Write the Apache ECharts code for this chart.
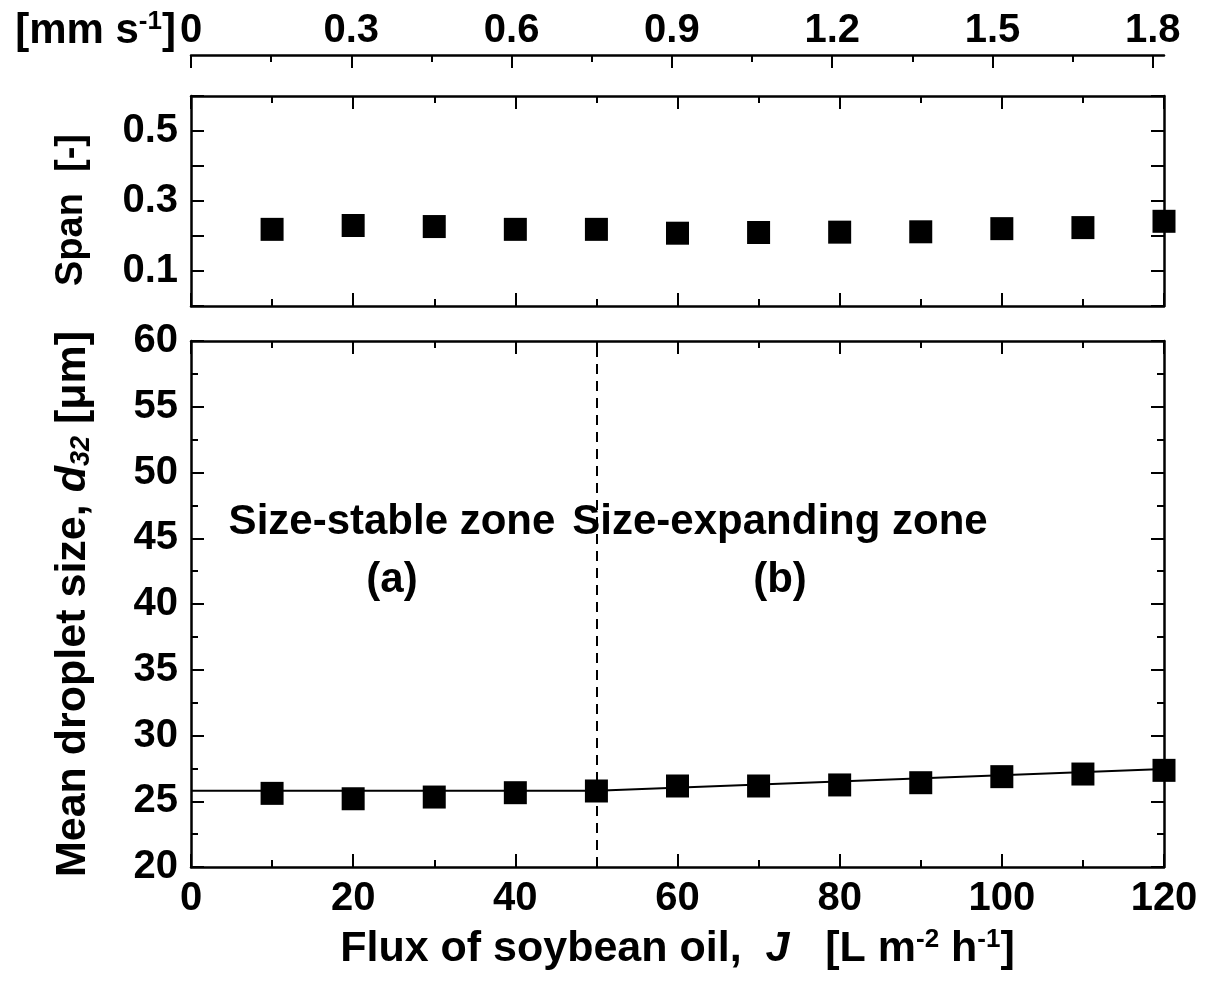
<!DOCTYPE html>
<html>
<head>
<meta charset="utf-8">
<script src="https://cdn.jsdelivr.net/npm/echarts@6/dist/echarts.min.js"></script>
<style>
html,body{margin:0;padding:0;background:#fff;}
#c{width:1209px;height:984px;}
</style>
</head>
<body>
<div id="c"></div>
<script>
// ---- data ----
const flux = [10, 20, 30, 40, 50, 60, 70, 80, 90, 100, 110, 120];
const spanValues = [0.219, 0.230, 0.227, 0.219, 0.219, 0.208, 0.210, 0.211, 0.212, 0.221, 0.224, 0.242];
const d32Values = [25.60, 25.19, 25.32, 25.65, 25.78, 26.16, 26.16, 26.24, 26.41, 26.87, 27.07, 27.35];
const fitX = [0, 50, 120];
const fitY = [25.8, 25.8, 27.45];
const zoneBoundary = 50;
const topMajor = [0, 0.3, 0.6, 0.9, 1.2, 1.5, 1.8];
const topMinor = [0.15, 0.45, 0.75, 1.05, 1.35, 1.65];
const spanLabels = [0.1, 0.3, 0.5];

const FONT = '"Liberation Sans", Arial, sans-serif';
const lbl = {fontFamily: FONT, fontWeight: 'bold', fontSize: 40, color: '#000'};
const axLine = {show: true, onZero: false, lineStyle: {color: '#000', width: 2.5}};
const tickIn = {show: true, inside: true, length: 13, lineStyle: {color: '#000', width: 2}};
const minorIn = {show: true, splitNumber: 2, length: 7, lineStyle: {color: '#000', width: 2}};

function xyPair(xs, ys) { return xs.map((x, i) => [x, ys[i]]); }

const chart = echarts.init(document.getElementById('c'));
const option = {
  backgroundColor: '#fff',
  animation: false,
  grid: [
    {left: 191, top: 96, width: 973, height: 210},
    {left: 191, top: 341, width: 973, height: 526}
  ],
  xAxis: [
    {gridIndex: 0, type: 'value', position: 'bottom', min: 0, max: 120, interval: 20,
     axisLine: axLine, axisTick: tickIn, minorTick: minorIn, axisLabel: {show: false}, splitLine: {show: false}},
    {gridIndex: 0, type: 'value', position: 'top', min: 0, max: 120, interval: 20,
     axisLine: axLine, axisTick: tickIn, minorTick: minorIn, axisLabel: {show: false}, splitLine: {show: false}},
    {gridIndex: 0, type: 'value', position: 'top', offset: 41, min: 0, max: 1.821,
     axisLine: axLine,
     axisTick: Object.assign({}, tickIn, {customValues: topMajor}),
     axisLabel: Object.assign({}, lbl, {customValues: topMajor, margin: 4}),
     splitLine: {show: false},
     name: '{b|[mm s}{sup|-1}{b|]}', nameLocation: 'start', nameGap: 6,
     nameTextStyle: {align: 'right', verticalAlign: 'bottom', padding: [0, 0, 2, 0],
       rich: {
         b: {fontFamily: FONT, fontWeight: 'bold', fontSize: 42, color: '#000'},
         sup: {fontFamily: FONT, fontWeight: 'bold', fontSize: 26, color: '#000', verticalAlign: 'top', padding: [0, 0, 18, 0]}
       }}},
    {gridIndex: 0, type: 'value', position: 'top', offset: 41, min: 0, max: 1.821,
     axisLine: {show: false, onZero: false},
     axisTick: {show: true, inside: true, length: 7, lineStyle: {color: '#000', width: 2}, customValues: topMinor},
     axisLabel: {show: false}, splitLine: {show: false}},
    {gridIndex: 1, type: 'value', position: 'bottom', min: 0, max: 120, interval: 20,
     axisLine: axLine, axisTick: tickIn, minorTick: minorIn,
     axisLabel: Object.assign({}, lbl, {margin: 12}), splitLine: {show: false},
     name: '{b|Flux of soybean oil,  }{i|J}{b|   [L m}{sup|-2}{b| h}{sup|-1}{b|]}',
     nameLocation: 'middle', nameGap: 60,
     nameTextStyle: {
       rich: {
         b: {fontFamily: FONT, fontWeight: 'bold', fontSize: 43, color: '#000'},
         i: {fontFamily: FONT, fontWeight: 'bold', fontStyle: 'italic', fontSize: 43, color: '#000'},
         sup: {fontFamily: FONT, fontWeight: 'bold', fontSize: 26, color: '#000', verticalAlign: 'top', padding: [0, 0, 18, 0]}
       }}},
    {gridIndex: 1, type: 'value', position: 'top', min: 0, max: 120, interval: 20,
     axisLine: axLine, axisTick: tickIn, minorTick: minorIn, axisLabel: {show: false}, splitLine: {show: false}}
  ],
  yAxis: [
    {gridIndex: 0, type: 'value', position: 'left', min: 0, max: 0.6, interval: 0.1,
     axisLine: axLine, axisTick: tickIn,
     axisLabel: Object.assign({}, lbl, {margin: 13, customValues: spanLabels,
       formatter: v => v.toFixed(1)}),
     splitLine: {show: false},
     name: 'Span  [-]', nameLocation: 'middle', nameGap: 100, nameRotate: 90,
     nameTextStyle: {fontFamily: FONT, fontWeight: 'bold', fontSize: 38, color: '#000', padding: [0, 18, 0, 0]}},
    {gridIndex: 0, type: 'value', position: 'right', min: 0, max: 0.6, interval: 0.1,
     axisLine: axLine, axisTick: tickIn, axisLabel: {show: false}, splitLine: {show: false}},
    {gridIndex: 1, type: 'value', position: 'left', min: 20, max: 60, interval: 5,
     axisLine: axLine, axisTick: tickIn, minorTick: minorIn,
     axisLabel: Object.assign({}, lbl, {margin: 13}), splitLine: {show: false},
     name: '{b|Mean droplet size, }{i|d}{s|32}{b| [μm]}', nameLocation: 'middle', nameGap: 96, nameRotate: 90,
     nameTextStyle: {
       rich: {
         b: {fontFamily: FONT, fontWeight: 'bold', fontSize: 43, color: '#000'},
         i: {fontFamily: FONT, fontWeight: 'bold', fontStyle: 'italic', fontSize: 43, color: '#000'},
         s: {fontFamily: FONT, fontWeight: 'bold', fontStyle: 'italic', fontSize: 27, color: '#000', verticalAlign: 'bottom', padding: [16, 0, 0, 0]}
       }}},
    {gridIndex: 1, type: 'value', position: 'right', min: 20, max: 60, interval: 5,
     axisLine: axLine, axisTick: tickIn, minorTick: minorIn, axisLabel: {show: false}, splitLine: {show: false}}
  ],
  series: [
    {type: 'scatter', xAxisIndex: 0, yAxisIndex: 0, clip: false,
     symbol: 'rect', symbolSize: 23, itemStyle: {color: '#000', opacity: 1},
     data: xyPair(flux, spanValues)},
    {type: 'line', xAxisIndex: 4, yAxisIndex: 2, symbol: 'none',
     lineStyle: {color: '#000', width: 2},
     data: xyPair(fitX, fitY),
     markLine: {silent: true, symbol: ['none', 'none'], label: {show: false},
       lineStyle: {color: '#000', type: [10, 7], width: 2},
       data: [{xAxis: zoneBoundary}]}},
    {type: 'scatter', xAxisIndex: 4, yAxisIndex: 2, clip: false,
     symbol: 'rect', symbolSize: 23, itemStyle: {color: '#000', opacity: 1},
     data: xyPair(flux, d32Values)}
  ],
  graphic: [
    {type: 'text', x: 392, y: 522, style: {text: 'Size-stable zone',
      font: 'bold 42px "Liberation Sans", Arial, sans-serif', fill: '#000', align: 'center', verticalAlign: 'middle'}},
    {type: 'text', x: 392, y: 580, style: {text: '(a)',
      font: 'bold 42px "Liberation Sans", Arial, sans-serif', fill: '#000', align: 'center', verticalAlign: 'middle'}},
    {type: 'text', x: 780, y: 522, style: {text: 'Size-expanding zone',
      font: 'bold 42px "Liberation Sans", Arial, sans-serif', fill: '#000', align: 'center', verticalAlign: 'middle'}},
    {type: 'text', x: 780, y: 580, style: {text: '(b)',
      font: 'bold 42px "Liberation Sans", Arial, sans-serif', fill: '#000', align: 'center', verticalAlign: 'middle'}}
  ]
};
chart.setOption(option);
</script>
</body>
</html>
